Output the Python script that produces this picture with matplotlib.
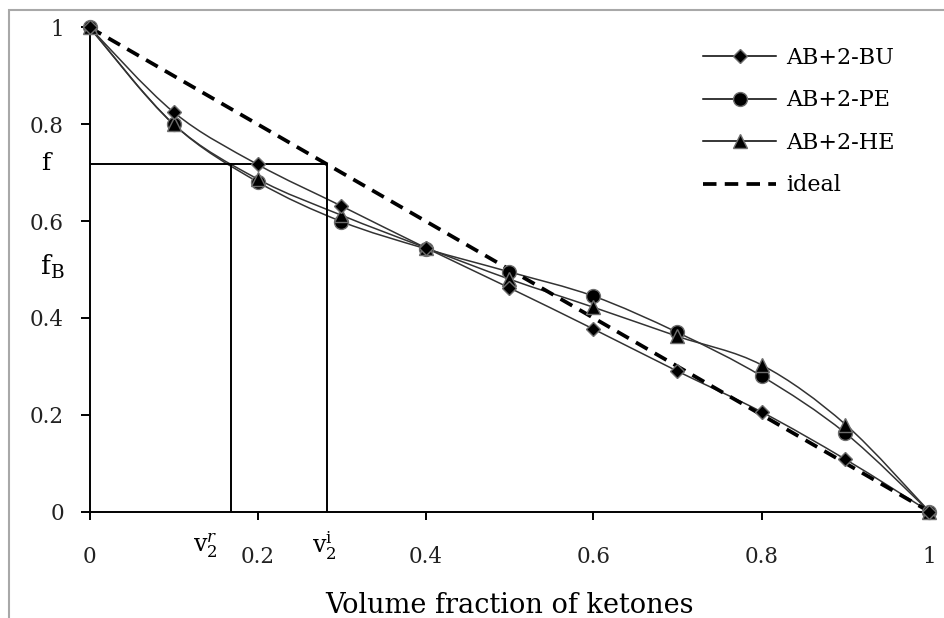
import numpy as np
import matplotlib
matplotlib.use("Agg")
import matplotlib.pyplot as plt
from matplotlib.path import Path
from matplotlib.patches import PathPatch, Rectangle
from matplotlib.lines import Line2D

# data
vol_frac = [0, 0.1, 0.2, 0.3, 0.4, 0.5, 0.6, 0.7, 0.8, 0.9, 1.0]
f_bu = [1.0, 0.825, 0.717, 0.631, 0.545, 0.462, 0.377, 0.290, 0.206, 0.108, 0.0]
f_pe = [1.0, 0.800, 0.681, 0.599, 0.543, 0.495, 0.445, 0.370, 0.280, 0.162, 0.0]
f_he = [1.0, 0.800, 0.687, 0.612, 0.545, 0.480, 0.422, 0.362, 0.303, 0.180, 0.0]
ideal_x = [0, 1]
ideal_y = [1, 0]

f_level = 0.718
v2_r = 0.168
v2_i = 0.283

x_ticks = [0, 0.2, 0.4, 0.6, 0.8, 1]
x_tick_labels = ["0", "0.2", "0.4", "0.6", "0.8", "1"]
y_ticks = [0, 0.2, 0.4, 0.6, 0.8, 1]
y_tick_labels = ["0", "0.2", "0.4", "0.6", "0.8", "1"]
series_labels = ["AB+2-BU", "AB+2-PE", "AB+2-HE", "ideal"]

plt.rcParams['font.family'] = ['DejaVu Serif']
plt.rcParams['mathtext.fontset'] = 'dejavuserif'


def smooth_path(xs, ys):
    """Excel-like smoothed line as cubic bezier segments"""
    pts = np.column_stack([xs, ys]).astype(float)
    n = len(pts)
    verts = [pts[0]]
    codes = [Path.MOVETO]
    for i in range(n - 1):
        p_prev = pts[i - 1] if i > 0 else pts[i]
        p0 = pts[i]
        p1 = pts[i + 1]
        p_next = pts[i + 2] if i + 2 < n else pts[i + 1]
        c1 = p0 + (p1 - p_prev) / 6.0
        c2 = p1 - (p_next - p0) / 6.0
        verts += [c1, c2, p1]
        codes += [Path.CURVE4, Path.CURVE4, Path.CURVE4]
    return Path(verts, codes)


fig = plt.figure(figsize=(9.44, 6.18), dpi=100)
ax = fig.add_axes([89.5 / 944, 1 - 511.7 / 618, 840 / 944, 484.4 / 618])

# outer gray frame (right and bottom fall outside the picture)
fig.patches.append(Rectangle((9 / 944, -0.1), 1.2, 1 - 10 / 618 + 0.1,
                             transform=fig.transFigure, fill=False,
                             edgecolor='#a8a8a8', linewidth=1.5))

line_color = '#333333'
for ys in (f_bu, f_pe, f_he):
    ax.add_patch(PathPatch(smooth_path(vol_frac, ys), fill=False,
                           edgecolor=line_color, linewidth=1.1, clip_on=False))

dash = (0, (3.6, 2.2))
ax.plot(ideal_x, ideal_y, color='black', linestyle=dash, linewidth=2.7,
        clip_on=False)

mk = dict(linestyle='none', markerfacecolor='black', markeredgecolor='#6e6e6e',
          markeredgewidth=1.0, clip_on=False, zorder=5)
ax.plot(vol_frac, f_pe, marker='o', markersize=10, **mk)
ax.plot(vol_frac, f_he, marker='^', markersize=10.5, **mk)
ax.plot(vol_frac, f_bu, marker='D', markersize=7.5, **mk)

# construction lines for f, v2^r and v2^i
ax.plot([0, v2_i], [f_level, f_level], color='black', linewidth=1.4)
ax.plot([v2_r, v2_r], [0, f_level], color='black', linewidth=1.4)
ax.plot([v2_i, v2_i], [0, f_level], color='black', linewidth=1.4)

ax.set_xlim(0, 1)
ax.set_ylim(0, 1)
for side in ('top', 'right'):
    ax.spines[side].set_visible(False)
for side in ('left', 'bottom'):
    ax.spines[side].set_linewidth(1.4)

ax.set_xticks(x_ticks)
ax.set_xticklabels(x_tick_labels)
ax.set_yticks(y_ticks)
ax.set_yticklabels(y_tick_labels)
ax.tick_params(axis='x', direction='out', length=6, width=1.4, pad=19,
               labelsize=15.5, labelcolor='#222222')
ax.tick_params(axis='y', direction='out', length=6.5, width=1.4, pad=12,
               labelsize=15.5, labelcolor='#222222')

# extra axis labels
ax.text(-0.052, f_level, 'f', ha='center', va='center', fontsize=18,
        transform=ax.transAxes)
ax.text(-0.044, 0.505, r'$\mathrm{f}_{\mathrm{B}}$', ha='center', va='center',
        fontsize=19, transform=ax.transAxes)
ax.text(v2_r - 0.03, -0.07, r'$\mathrm{v}_2^{r}$', ha='center', va='center',
        fontsize=17, transform=ax.transAxes)
ax.text(v2_i - 0.003, -0.07, r'$\mathrm{v}_2^{\mathrm{i}}$', ha='center', va='center',
        fontsize=17, transform=ax.transAxes)

ax.set_xlabel('Volume fraction of ketones', fontsize=19.5, labelpad=17)

handles = [
    Line2D([], [], color='black', linewidth=1.1, marker='D', markersize=7.5,
           markerfacecolor='black', markeredgecolor='#6e6e6e'),
    Line2D([], [], color='black', linewidth=1.1, marker='o', markersize=10,
           markerfacecolor='black', markeredgecolor='#6e6e6e'),
    Line2D([], [], color='black', linewidth=1.1, marker='^', markersize=10.5,
           markerfacecolor='black', markeredgecolor='#6e6e6e'),
    Line2D([], [], color='black', linewidth=2.7, linestyle=dash),
]
fig.legend(handles, series_labels, loc='upper left',
           bbox_to_anchor=(703 / 944, 1 - 47 / 618), frameon=False,
           fontsize=16, handlelength=3.3, handletextpad=0.45,
           labelspacing=0.92, borderpad=0, borderaxespad=0)

fig.savefig('out.png', dpi=100)
